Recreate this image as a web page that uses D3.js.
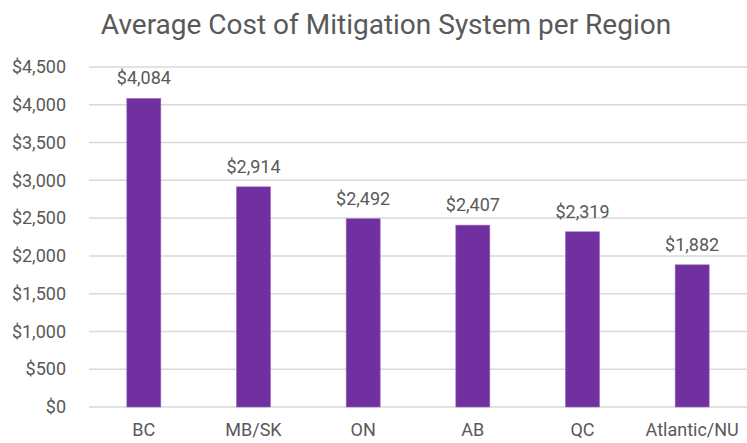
<!DOCTYPE html>
<html>
<head>
  <meta charset="utf-8">
  <title>Average Cost of Mitigation System per Region</title>
  <script src="https://d3js.org/d3.v7.min.js"></script>
  <style>
    body { margin: 0; background: #fff; }
    text { font-family: Roboto, sans-serif; fill: #595959; }
  </style>
</head>
<body>
  <svg width="747" height="443"></svg>
  <script>
    const regions = ["BC", "MB/SK", "ON", "AB", "QC", "Atlantic/NU"];
    const costs = [4084, 2914, 2492, 2407, 2319, 1882];
    const yTicks = [0, 500, 1000, 1500, 2000, 2500, 3000, 3500, 4000, 4500];

    const svg = d3.select("svg");
    const margin = { top: 67, right: 0, bottom: 36, left: 89 };
    const width = +svg.attr("width");
    const height = +svg.attr("height");

    const x = d3.scaleBand()
      .domain(regions)
      .range([margin.left, width - margin.right])
      .paddingInner(0.69)
      .paddingOuter(0.345);

    const y = d3.scaleLinear()
      .domain([0, 4500])
      .range([height - margin.bottom, margin.top]);

    const money = d3.format("$,");

    // title
    svg.append("text")
      .attr("x", 386)
      .attr("y", 34)
      .attr("text-anchor", "middle")
      .style("font-size", "28px")
      .text("Average Cost of Mitigation System per Region");

    // gridlines
    svg.append("g")
      .selectAll("line")
      .data(yTicks)
      .join("line")
      .attr("x1", margin.left)
      .attr("x2", width)
      .attr("y1", d => y(d))
      .attr("y2", d => y(d))
      .attr("stroke", "#d9d9d9")
      .attr("stroke-width", 1.5);

    // y axis labels
    const yAxis = svg.append("g")
      .attr("transform", `translate(${margin.left - 23},0)`)
      .call(d3.axisLeft(y).tickValues(yTicks).tickFormat(money).tickSize(0).tickPadding(0));
    yAxis.select(".domain").remove();
    yAxis.selectAll("text")
      .style("font-size", "18px")
      .style("font-family", "Roboto, sans-serif")
      .attr("fill", "#595959");

    // x axis labels
    const xAxis = svg.append("g")
      .attr("transform", `translate(0,${y(0)})`)
      .call(d3.axisBottom(x).tickSize(0).tickPadding(16));
    xAxis.select(".domain").remove();
    xAxis.selectAll("text")
      .style("font-size", "18px")
      .style("font-family", "Roboto, sans-serif")
      .attr("fill", "#595959");

    // bars
    svg.append("g")
      .selectAll("rect")
      .data(costs)
      .join("rect")
      .attr("x", (d, i) => x(regions[i]))
      .attr("y", d => y(d))
      .attr("width", x.bandwidth())
      .attr("height", d => y(0) - y(d))
      .attr("fill", "#7030a0")
      .attr("stroke", "#9a6cc0")
      .attr("stroke-width", 0.6);

    // value labels
    svg.append("g")
      .selectAll("text")
      .data(costs)
      .join("text")
      .attr("x", (d, i) => x(regions[i]) + x.bandwidth() / 2)
      .attr("y", d => y(d) - 14)
      .attr("text-anchor", "middle")
      .style("font-size", "18px")
      .text(d => money(d));
  </script>
</body>
</html>
